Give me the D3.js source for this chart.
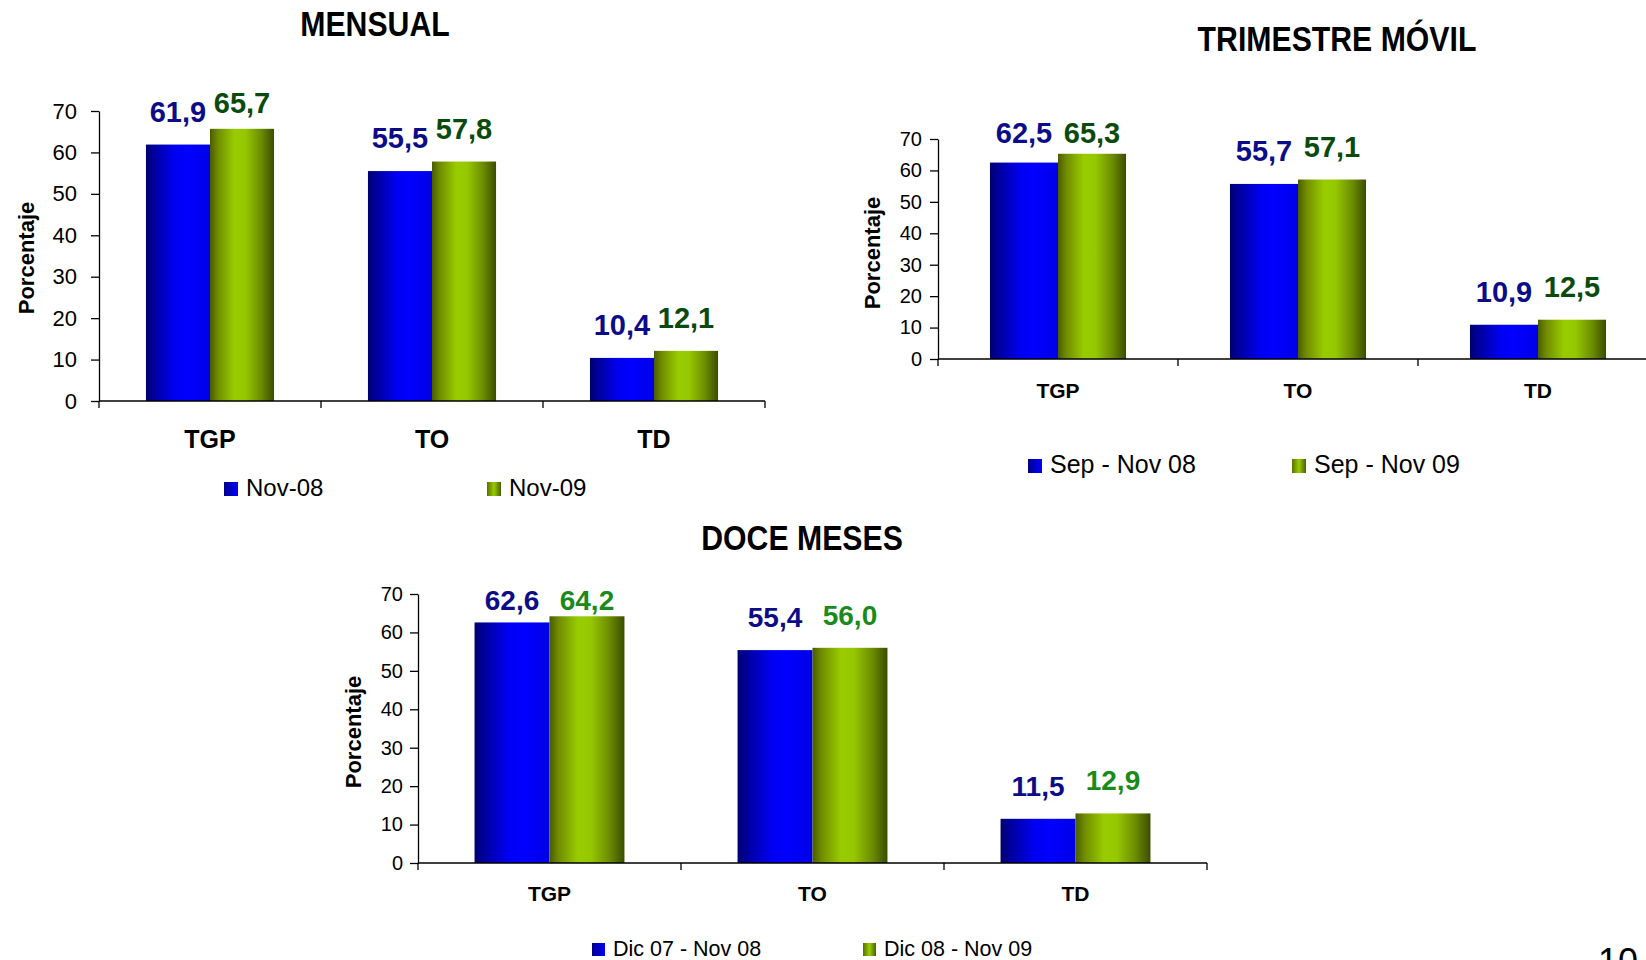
<!DOCTYPE html>
<html>
<head>
<meta charset="utf-8">
<script src="https://cdn.jsdelivr.net/npm/d3@7"></script>
<style>
  html, body { margin: 0; padding: 0; background: #ffffff; }
  svg { display: block; font-family: "Liberation Sans", Arial, Helvetica, sans-serif; }
</style>
</head>
<body>
<svg id="chart" width="1646" height="960"></svg>
<script>
// ---- data ----
const categories = ["TGP", "TO", "TD"];
const yTickValues = [0, 10, 20, 30, 40, 50, 60, 70];

const mensualTitle = "MENSUAL";
const mensualSeries = ["Nov-08", "Nov-09"];
const mensualNov08 = [61.9, 55.5, 10.4];
const mensualNov09 = [65.7, 57.8, 12.1];

const trimestreTitle = "TRIMESTRE MÓVIL";
const trimestreSeries = ["Sep - Nov 08", "Sep - Nov 09"];
const trimestreSep08 = [62.5, 55.7, 10.9];
const trimestreSep09 = [65.3, 57.1, 12.5];

const doceTitle = "DOCE MESES";
const doceSeries = ["Dic 07 - Nov 08", "Dic 08 - Nov 09"];
const doceDic08 = [62.6, 55.4, 11.5];
const doceDic09 = [64.2, 56.0, 12.9];

const yAxisTitle = "Porcentaje";
const pageNumber = "10";

// ---- drawing ----
const svg = d3.select("#chart");
const FONT = '"Liberation Sans", Arial, Helvetica, sans-serif';

const defs = svg.append("defs");
function grad(id, stops) {
  const g = defs.append("linearGradient").attr("id", id)
    .attr("x1", "0").attr("y1", "0").attr("x2", "1").attr("y2", "0");
  stops.forEach(s => g.append("stop").attr("offset", s[0]).attr("stop-color", s[1]));
}
grad("gBlue", [[0, "#000070"], [0.12, "#00009a"], [0.45, "#0000f2"], [0.65, "#0000ff"], [1, "#0000e6"]]);
grad("gGreen", [[0, "#4a5c00"], [0.12, "#708c00"], [0.38, "#99cc00"], [0.55, "#96c800"], [0.8, "#6c8c00"], [1, "#3a4d00"]]);
grad("gBlueSw", [[0, "#00008a"], [1, "#0000ff"]]);
grad("gGreenSw", [[0, "#5a7000"], [0.5, "#99cc00"], [1, "#4a6000"]]);

const fmt = v => d3.format(".1f")(v).replace(".", ",");

function drawChart(cfg) {
  const g = svg.append("g");
  const x = d3.scaleBand().domain(categories).range([cfg.x0, cfg.x1]).paddingInner(0).paddingOuter(0);
  const n = cfg.series.length;
  const po = n * (1 - cfg.groupFrac) / (2 * cfg.groupFrac);
  const xs = d3.scaleBand().domain(d3.range(n)).range([0, x.bandwidth()]).paddingInner(0).paddingOuter(po);
  const y = d3.scaleLinear().domain([0, 70]).range([cfg.y0, cfg.y70]);

  // title
  g.append("text")
    .attr("transform", `translate(${cfg.titleX},${cfg.titleY}) scale(0.84,1)`)
    .attr("text-anchor", "middle")
    .style("font-family", FONT).style("font-weight", "bold").style("font-size", "36px")
    .attr("fill", "#000").text(cfg.title);

  // bars
  const fills = ["url(#gBlue)", "url(#gGreen)"];
  cfg.values.forEach((vals, si) => {
    g.append("g").selectAll("rect").data(vals).join("rect")
      .attr("x", (d, i) => x(categories[i]) + xs(si))
      .attr("width", xs.bandwidth())
      .attr("y", d => y(d))
      .attr("height", d => y(0) - y(d))
      .attr("fill", fills[si]);
  });

  // value labels
  cfg.values.forEach((vals, si) => {
    g.append("g").selectAll("text").data(vals).join("text")
      .attr("x", (d, i) => x(categories[i]) + xs(si) + xs.bandwidth() / 2)
      .attr("y", d => Math.max(y(d) - 23, cfg.labelMinY))
      .attr("text-anchor", "middle")
      .style("font-family", FONT).style("font-weight", "bold").style("font-size", cfg.valueSize + "px")
      .attr("fill", cfg.labelColors[si])
      .text(d => fmt(d));
  });

  // y axis
  const ya = g.append("g").attr("transform", `translate(${cfg.x0},0)`)
    .call(d3.axisLeft(y).tickValues(yTickValues).tickFormat(d3.format("d"))
      .tickSizeInner(8).tickSizeOuter(0).tickPadding(cfg.tickPad));
  ya.selectAll("path, line").attr("stroke", "#000").attr("stroke-width", 1.3);
  ya.selectAll("text").style("font-family", FONT).style("font-size", cfg.tickSize + "px")
    .attr("fill", "#000");

  // x axis line and boundary ticks
  const xa = g.append("g").attr("transform", `translate(0,${cfg.y0})`)
    .call(d3.axisBottom(x).tickSize(0).tickPadding(0));
  xa.select("path").attr("d", `M${cfg.x0},0H${cfg.x1}`).attr("stroke", "#000").attr("stroke-width", 1.3);
  xa.selectAll("text")
    .attr("y", cfg.catY - cfg.y0).attr("dy", null)
    .style("font-family", FONT).style("font-weight", "bold").style("font-size", cfg.catSize + "px")
    .attr("fill", "#000");
  const bounds = categories.map(c => x(c)).concat([x(categories[categories.length - 1]) + x.bandwidth()]);
  xa.append("g").selectAll("line").data(bounds).join("line")
    .attr("x1", d => d).attr("x2", d => d).attr("y1", 0).attr("y2", 7)
    .attr("stroke", "#000").attr("stroke-width", 1.3);

  // y axis title
  g.append("text")
    .attr("transform", `translate(${cfg.yTitleX},${cfg.yTitleY}) rotate(-90)`)
    .attr("text-anchor", "middle").attr("dy", "0.35em")
    .style("font-family", FONT).style("font-weight", "bold").style("font-size", "22px")
    .attr("fill", "#000").text(yAxisTitle);

  // legend
  const sw = ["url(#gBlueSw)", "url(#gGreenSw)"];
  cfg.series.forEach((s, i) => {
    const lx = cfg.legendX[i];
    g.append("rect").attr("x", lx).attr("y", cfg.legendY - cfg.swSize)
      .attr("width", cfg.swSize).attr("height", cfg.swSize).attr("fill", sw[i]);
    g.append("text").attr("x", lx + cfg.swSize + 8).attr("y", cfg.legendY)
      .style("font-family", FONT).style("font-size", cfg.legendSize + "px")
      .attr("fill", "#000").text(s);
  });
}

drawChart({
  title: mensualTitle, titleX: 375, titleY: 36,
  series: mensualSeries, values: [mensualNov08, mensualNov09],
  x0: 99, x1: 765, y0: 401, y70: 111, groupFrac: 0.577,
  labelColors: ["#0c0c88", "#0a4a0a"], labelMinY: 113, valueSize: 29,
  tickSize: 22, tickPad: 14, catY: 448, catSize: 25,
  yTitleX: 26, yTitleY: 258,
  legendX: [224, 487], legendY: 496, swSize: 14, legendSize: 24
});

drawChart({
  title: trimestreTitle, titleX: 1337, titleY: 51,
  series: trimestreSeries, values: [trimestreSep08, trimestreSep09],
  x0: 938, x1: 1658, y0: 359, y70: 139, groupFrac: 0.567,
  labelColors: ["#0c0c88", "#0a4a0a"], labelMinY: 143, valueSize: 29,
  tickSize: 20, tickPad: 8, catY: 398, catSize: 21,
  yTitleX: 872, yTitleY: 253,
  legendX: [1028, 1292], legendY: 473, swSize: 14, legendSize: 25
});

drawChart({
  title: doceTitle, titleX: 802, titleY: 550,
  series: doceSeries, values: [doceDic08, doceDic09],
  x0: 418, x1: 1207, y0: 863, y70: 594, groupFrac: 0.57,
  labelColors: ["#0c0c88", "#1a8a1a"], labelMinY: 610, valueSize: 28,
  tickSize: 20, tickPad: 7, catY: 901, catSize: 21,
  yTitleX: 353, yTitleY: 732,
  legendX: [592, 863], legendY: 956, swSize: 13, legendSize: 21.5
});

// page number
svg.append("text").attr("x", 1638).attr("y", 974).attr("text-anchor", "end")
  .style("font-family", FONT).style("font-size", "36px").attr("fill", "#000").text(pageNumber);
</script>
</body>
</html>
